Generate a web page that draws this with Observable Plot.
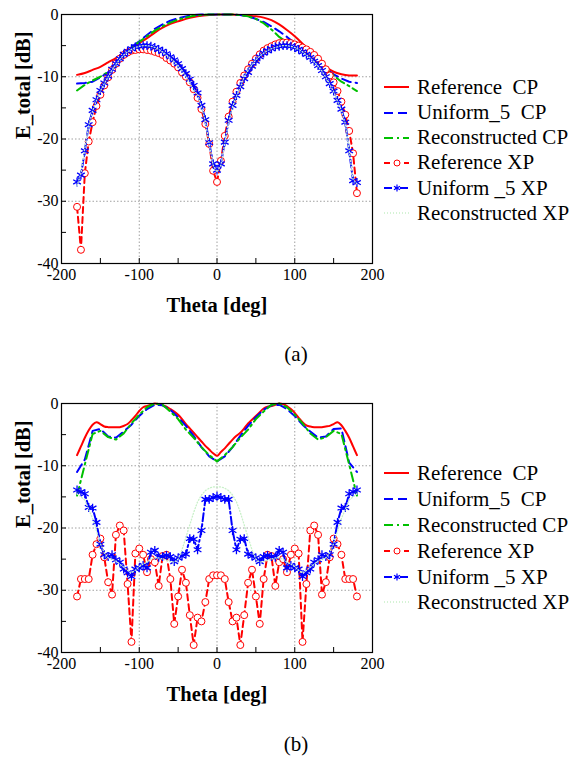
<!DOCTYPE html>
<html><head><meta charset="utf-8">
<script src="https://cdn.jsdelivr.net/npm/d3@7"></script>
<script src="https://cdn.jsdelivr.net/npm/@observablehq/plot@0.6"></script>
<style>
html,body{margin:0;padding:0;background:#fff;}
body{width:570px;height:762px;position:relative;overflow:hidden;font-family:"Liberation Serif","Tinos","Times New Roman","Nimbus Roman","DejaVu Serif",serif;color:#000;}
.panel{position:absolute;left:0;}
.row{position:absolute;left:383px;height:24px;display:flex;align-items:center;white-space:pre;font-size:21px;}
.row svg{margin-right:7px;flex:none;}
.caption{position:absolute;left:256px;width:80px;text-align:center;font-size:21px;}
svg text{font-family:"Liberation Serif","Tinos","Times New Roman","Nimbus Roman","DejaVu Serif",serif;}
</style></head><body>
<div id="pa" class="panel" style="top:0px"></div>
<div id="pb" class="panel" style="top:389px"></div>
<div id="la"></div>
<div id="lb"></div>
<div class="caption" style="top:342px">(a)</div>
<div class="caption" style="top:732px">(b)</div>
<script>
// ---------- axes / categories ----------
const xMajor = [-200, -100, 0, 100, 200];
const xMinor = [-150, -50, 50, 150];
const yMajor = [0, -10, -20, -30, -40];
const yMinor = [-5, -15, -25, -35];
const xGrid = [-100, 0, 100];
const yGrid = [-10, -20, -30];
const seriesNames = ["Reference  CP", "Uniform_5  CP", "Reconstructed CP", "Reference XP", "Uniform _5 XP", "Reconstructed XP"];

// theta samples (deg)
const thetaCP10 = d3.range(-180, 181, 10);
const thetaStep5 = d3.range(-180, 181, 5);

// ---------- panel (a) ----------
const aRefCP = [-9.7,-9.4,-8.9,-8.4,-7.7,-7.0,-6.2,-5.4,-4.6,-3.8,-2.9,-2.1,-1.5,-1.1,-0.7,-0.4,-0.2,-0.1,0,0,0,-0.1,-0.2,-0.3,-0.5,-0.9,-1.6,-2.5,-3.5,-4.7,-6.1,-7.4,-8.4,-9.2,-9.6,-9.8,-9.8];
const aUniCP = [-11.1,-11.0,-10.8,-10.1,-9.3,-7.8,-6.3,-5.2,-4.3,-3.3,-2.3,-1.6,-1.0,-0.6,-0.3,-0.1,0,0,0,0,0,-0.1,-0.3,-0.7,-1.2,-1.9,-2.7,-3.6,-4.6,-5.7,-6.8,-7.8,-8.7,-9.6,-10.3,-10.8,-11.0];
const aRecCP = [-12.2,-11.3,-10.6,-10.0,-9.2,-7.8,-6.4,-5.3,-4.4,-3.5,-2.6,-1.9,-1.3,-0.8,-0.5,-0.2,-0.1,0,0,0,0,-0.1,-0.3,-0.7,-1.4,-2.4,-3.6,-4.5,-5.3,-6.0,-6.8,-7.7,-8.7,-9.8,-10.8,-11.5,-12.3];
const aRefXP = [-30.9,-37.8,-25.5,-20.4,-17.3,-14.7,-12.9,-11.4,-10.1,-8.9,-7.9,-7.1,-6.5,-6.1,-5.8,-5.7,-5.6,-5.6,-5.7,-5.8,-6.0,-6.2,-6.5,-7.0,-7.4,-7.9,-8.5,-9.3,-10.0,-10.9,-12.0,-13.4,-15.2,-17.6,-20.8,-25.1,-26.9,
                -23.5,-19.5,-16.4,-14.0,-12.4,-11.0,-9.8,-8.8,-7.9,-7.1,-6.4,-5.8,-5.4,-5.1,-4.8,-4.6,-4.5,-4.5,-4.6,-4.8,-5.0,-5.3,-5.6,-6.0,-6.5,-7.1,-7.9,-8.8,-9.8,-10.9,-12.3,-14.0,-16.1,-18.7,-22.3,-28.7];
const aUniXP = [-26.9,-25.8,-21.9,-17.7,-15.4,-13.7,-12.2,-11.0,-9.9,-8.8,-7.9,-7.1,-6.4,-5.9,-5.5,-5.2,-5.1,-5.0,-5.0,-5.1,-5.3,-5.6,-5.9,-6.3,-6.8,-7.3,-7.9,-8.7,-9.5,-10.4,-11.4,-12.6,-14.6,-16.9,-20.6,-24.0,-25.0,
                -24.0,-20.5,-17.0,-14.6,-13.0,-11.6,-10.3,-9.3,-8.3,-7.5,-6.8,-6.2,-5.8,-5.5,-5.2,-5.1,-5.0,-5.0,-5.1,-5.3,-5.6,-6.0,-6.4,-6.9,-7.5,-8.2,-9.0,-10.0,-11.1,-12.3,-13.8,-15.2,-17.3,-21.9,-26.7,-27.0];
const aRecXP = [-27.5,-25.5,-21.5,-17.8,-15.5,-13.8,-12.3,-11.1,-10.0,-8.9,-8.0,-7.2,-6.5,-6.0,-5.6,-5.3,-5.1,-5.0,-5.0,-5.1,-5.3,-5.6,-6.0,-6.5,-7.0,-7.6,-8.2,-9.0,-9.9,-11.0,-12.3,-12.8,-14.8,-17.2,-20.8,-24.2,-25.3,
                -24.2,-20.7,-17.2,-14.8,-13.1,-11.7,-10.0,-9.0,-8.1,-7.3,-6.7,-6.2,-5.8,-5.5,-5.3,-5.1,-5.0,-5.0,-5.1,-5.3,-5.6,-6.0,-6.5,-7.0,-7.6,-8.3,-9.1,-10.1,-11.2,-12.4,-13.9,-15.4,-17.5,-21.8,-26.5,-27.2];

// ---------- panel (b) ----------
const bRefCP = [-8.3,-6.9,-5.5,-4.3,-3.4,-3.0,-3.3,-3.7,-3.8,-3.8,-3.8,-3.8,-3.6,-3.3,-2.7,-2.0,-1.2,-0.6,-0.4,-0.2,0,-0.1,-0.3,-0.5,-0.9,-1.3,-1.8,-2.5,-3.3,-4.0,-4.7,-5.4,-6.1,-6.8,-7.4,-8.0,-8.4,
                -7.8,-7.2,-6.5,-5.8,-5.2,-4.7,-4.0,-3.2,-2.6,-2.0,-1.4,-0.8,-0.5,-0.4,-0.2,0,-0.1,-0.4,-0.9,-1.5,-2.3,-3.0,-3.5,-3.7,-3.8,-3.8,-3.8,-3.7,-3.6,-3.3,-3.0,-3.5,-4.4,-5.5,-6.9,-8.3];
const bUniCP = [-11.0,-9.0,-4.4,-4.1,-5.3,-5.5,-4.5,-3.4,-2.0,-0.9,-0.2,-0.3,-1.0,-2.2,-3.6,-5.2,-7.0,-8.5,-9.3,-8.5,-7.0,-5.2,-3.6,-2.2,-1.0,-0.3,-0.2,-0.9,-2.0,-3.4,-4.5,-5.5,-5.3,-4.1,-4.0,-9.5,-11.0];
const bRecCP = [-14.8,-9.8,-4.9,-4.4,-5.4,-5.8,-4.8,-3.2,-1.8,-0.6,0,-0.2,-1.3,-2.5,-4.2,-5.5,-7.0,-8.3,-9.3,-8.3,-7.0,-5.5,-4.2,-2.5,-1.3,-0.2,0,-0.6,-1.8,-3.2,-4.8,-5.8,-5.4,-4.4,-4.9,-9.8,-14.8];
const bRefXP = [-31.0,-28.2,-28.2,-28.2,-24.3,-22.6,-21.7,-24.7,-28.7,-30.7,-21.1,-19.6,-20.4,-29.0,-38.3,-24.1,-23.3,-24.3,-27.1,-25.0,-25.5,-29.3,-24.5,-24.3,-28.2,-35.4,-31.0,-26.7,-28.8,-34.0,-38.8,-34.4,-35.0,-31.9,-28.2,-27.6,-27.6,
                -27.6,-28.2,-31.9,-35.0,-34.4,-38.8,-34.0,-28.8,-26.7,-31.0,-35.4,-28.2,-24.3,-24.5,-29.3,-25.5,-25.0,-27.1,-24.3,-23.3,-24.1,-38.3,-29.0,-20.4,-19.6,-21.1,-30.7,-28.7,-24.7,-21.7,-22.6,-24.3,-28.2,-28.2,-28.2,-31.0];
const bUniXP = [-13.9,-14.2,-14.5,-16.7,-16.8,-19.1,-22.6,-24.3,-24.6,-24.3,-25.1,-25.5,-26.6,-27.2,-27.8,-26.6,-26.4,-26.0,-26.4,-23.9,-23.6,-24.7,-24.6,-24.4,-24.6,-25.4,-24.8,-24.5,-24.2,-21.7,-21.8,-23.5,-20.4,-15.4,-15.4,-15.1,-14.9,
                -15.1,-15.4,-15.4,-20.4,-23.5,-21.8,-21.7,-24.2,-24.5,-24.8,-25.4,-24.6,-24.4,-24.6,-24.7,-23.6,-23.9,-26.4,-26.0,-26.4,-26.6,-27.8,-27.2,-26.6,-25.5,-25.1,-24.3,-24.6,-24.3,-22.6,-19.1,-16.8,-16.7,-14.5,-14.2,-13.9];
const bRecXP = [-14.5,-15.0,-15.5,-17.0,-18.5,-20.5,-22.5,-24.0,-24.8,-25.0,-25.3,-25.8,-26.3,-26.8,-27.2,-26.8,-26.2,-25.8,-25.5,-25.0,-24.8,-24.8,-25.0,-25.2,-25.4,-25.5,-25.0,-23.5,-21.5,-19.5,-17.5,-15.8,-14.7,-14.0,-13.6,-13.4,-13.4,
                -13.4,-13.6,-14.0,-14.7,-15.8,-17.5,-19.5,-21.5,-23.5,-25.0,-25.5,-25.4,-25.2,-25.0,-24.8,-24.8,-25.0,-25.5,-25.8,-26.2,-26.8,-27.2,-26.8,-26.3,-25.8,-25.3,-25.0,-24.8,-24.0,-22.5,-20.5,-18.5,-17.0,-15.5,-15.0,-14.5];

// ---------- styles ----------
const RED = "#ff0000", BLUE = "#0000ff", GREEN = "#00c000", LGREEN = "#c8f0c8";
const FONT = "'Liberation Serif', Tinos, 'Times New Roman', 'Nimbus Roman', 'DejaVu Serif', serif";
const sty = {
  refCP: {stroke: RED, strokeWidth: 2},
  uniCP: {stroke: BLUE, strokeWidth: 2, strokeDasharray: "9,5"},
  recCP: {stroke: GREEN, strokeWidth: 2, strokeDasharray: "9,4,2,4"},
  refXP: {stroke: RED, strokeWidth: 2, strokeDasharray: "6,4"},
  uniXP: {stroke: BLUE, strokeWidth: 2, strokeDasharray: "8,3,2,3"},
  recXP: {stroke: LGREEN, strokeWidth: 1.3, strokeDasharray: "1,2"}
};

const zip = (xs, ys) => xs.map((x, i) => ({x, y: ys[i]}));

function panel(d, refCurve) {
  return Plot.plot({
    width: 380, height: 330,
    marginLeft: 61, marginRight: 8, marginTop: 14, marginBottom: 67,
    style: {fontFamily: FONT, fontSize: "16px", background: "transparent", color: "#000", overflow: "visible"},
    x: {domain: [-200, 200]},
    y: {domain: [-40, 0]},
    marks: [
      Plot.gridX(xGrid, {stroke: "#a0a0a0", strokeOpacity: 1, strokeDasharray: "1.5,2"}),
      Plot.gridY(yGrid, {stroke: "#a0a0a0", strokeOpacity: 1, strokeDasharray: "1.5,2"}),
      Plot.ruleX([...xMajor, ...xMinor], {insetTop: 244, stroke: "#000", strokeWidth: 1}),
      Plot.ruleY([...yMajor, ...yMinor], {insetRight: 306, stroke: "#000", strokeWidth: 1}),
      Plot.axisX(xMajor, {tickSize: 0, tickPadding: 5, tickFormat: v => String(v), label: null, fontSize: 16}),
      Plot.axisY(yMajor, {tickSize: 0, tickPadding: 3, tickFormat: v => String(v), label: null, fontSize: 16}),
      Plot.line(d.refCP, {x: "x", y: "y", curve: refCurve, ...sty.refCP}),
      Plot.line(d.uniCP, {x: "x", y: "y", ...sty.uniCP}),
      Plot.line(d.recCP, {x: "x", y: "y", ...sty.recCP}),
      Plot.line(d.refXP, {x: "x", y: "y", ...sty.refXP}),
      Plot.dot(d.refXP, {x: "x", y: "y", r: 3.5, stroke: RED, fill: "white", strokeWidth: 1}),
      Plot.line(d.uniXP, {x: "x", y: "y", ...sty.uniXP}),
      Plot.dot(d.uniXP, {x: "x", y: "y", r: 4.2, symbol: "asterisk", stroke: BLUE, strokeWidth: 1.3}),
      Plot.line(d.recXP, {x: "x", y: "y", ...sty.recXP}),
      Plot.frame({stroke: "#000", strokeWidth: 1.2}),
      Plot.text(["Theta [deg]"], {frameAnchor: "bottom", dy: 48, fontWeight: "bold", fontSize: 20.5}),
      Plot.text(["E_total [dB]"], {frameAnchor: "left", dx: -38, rotate: -90, fontWeight: "bold", fontSize: 20.5})
    ]
  });
}

const dataA = {
  refCP: zip(thetaCP10, aRefCP), uniCP: zip(thetaCP10, aUniCP), recCP: zip(thetaCP10, aRecCP),
  refXP: zip(thetaStep5, aRefXP), uniXP: zip(thetaStep5, aUniXP), recXP: zip(thetaStep5, aRecXP)
};
const dataB = {
  refCP: zip(thetaStep5, bRefCP), uniCP: zip(thetaCP10, bUniCP), recCP: zip(thetaCP10, bRecCP),
  refXP: zip(thetaStep5, bRefXP), uniXP: zip(thetaStep5, bUniXP), recXP: zip(thetaStep5, bRecXP)
};

document.getElementById("pa").appendChild(panel(dataA, "catmull-rom"));
document.getElementById("pb").appendChild(panel(dataB, "catmull-rom"));

// ---------- legends ----------
function swatch(key) {
  const s = sty[key];
  const ns = "http://www.w3.org/2000/svg";
  const svg = document.createElementNS(ns, "svg");
  svg.setAttribute("width", 27); svg.setAttribute("height", 12);
  const ln = document.createElementNS(ns, "line");
  ln.setAttribute("x1", 1); ln.setAttribute("x2", 26); ln.setAttribute("y1", 6); ln.setAttribute("y2", 6);
  ln.setAttribute("stroke", s.stroke); ln.setAttribute("stroke-width", s.strokeWidth);
  if (s.strokeDasharray) ln.setAttribute("stroke-dasharray", s.strokeDasharray);
  svg.appendChild(ln);
  if (key === "refXP") {
    const c = document.createElementNS(ns, "circle");
    c.setAttribute("cx", 14); c.setAttribute("cy", 6); c.setAttribute("r", 3);
    c.setAttribute("fill", "white"); c.setAttribute("stroke", RED);
    svg.appendChild(c);
  }
  if (key === "uniXP") {
    const g = document.createElementNS(ns, "path");
    const r = 3.5, a = r * Math.sqrt(3) / 2;
    g.setAttribute("d", `M14,${6 - r}V${6 + r}M${14 - a},${6 - r / 2}L${14 + a},${6 + r / 2}M${14 - a},${6 + r / 2}L${14 + a},${6 - r / 2}`);
    g.setAttribute("stroke", BLUE); g.setAttribute("stroke-width", 1.2);
    svg.appendChild(g);
  }
  return svg;
}
const keys = ["refCP", "uniCP", "recCP", "refXP", "uniXP", "recXP"];
function legend(id, centers) {
  const host = document.getElementById(id);
  keys.forEach((k, i) => {
    const row = document.createElement("div");
    row.className = "row";
    row.style.top = (centers[i] - 12) + "px";
    row.appendChild(swatch(k));
    const t = document.createElement("span");
    t.textContent = seriesNames[i];
    row.appendChild(t);
    host.appendChild(row);
  });
}
legend("la", [87, 112.5, 137.5, 162.5, 188, 213]);
legend("lb", [473, 499, 525, 551, 577, 602]);
</script>
</body></html>
